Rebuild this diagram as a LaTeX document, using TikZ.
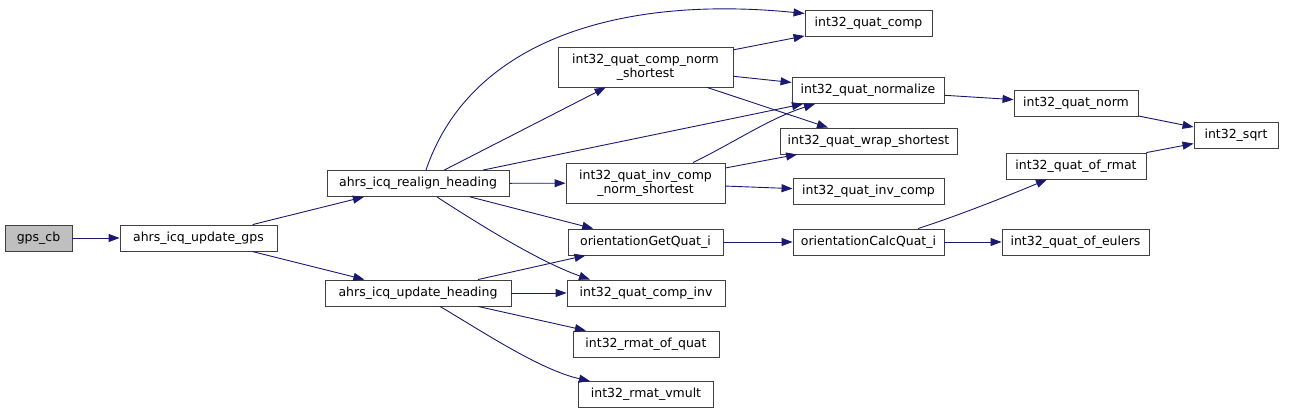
\documentclass[tikz,border=0pt]{standalone}
\usepackage{fontspec}
\setmainfont{DejaVu Sans}
\usepackage{xcolor}
\usepackage{tikz}
\usetikzlibrary{arrows.meta}
\definecolor{edgeblue}{HTML}{191970}
\definecolor{boxline}{HTML}{404040}
\definecolor{rootgray}{HTML}{BFBFBF}

\begin{document}
\begin{tikzpicture}[x=1pt,y=-1pt,>={Triangle[length=11pt,width=8pt]},
  font=\fontsize{12.5}{14.5}\selectfont,
  fn/.style={draw=boxline,fill=white,line width=0.9pt,inner sep=0pt,minimum height=26pt,align=center},
  root/.style={fn,fill=rootgray},
  call/.style={->,edgeblue,line width=0.9pt}]
  \useasboundingbox (0,0) rectangle (1311,413);
  % callers
  \node[root,minimum width=67pt] (gpscb) at (38.5,238) {gps\_cb};
  \node[fn,minimum width=157pt] (updgps) at (198.5,238) {ahrs\_icq\_update\_gps};
  \node[fn,minimum width=182pt] (realign) at (418,183.5) {ahrs\_icq\_realign\_heading};
  \node[fn,minimum width=186pt] (updhead) at (418,293) {ahrs\_icq\_update\_heading};
  % third column
  \node[fn,minimum width=175pt,minimum height=40pt] (compnorm) at (645.5,67) {int32\_quat\_comp\_norm\\\_shortest};
  \node[fn,minimum width=159pt,minimum height=40pt] (invnorm) at (645.5,183) {int32\_quat\_inv\_comp\\\_norm\_shortest};
  \node[fn,minimum width=155pt] (getquat) at (645.5,242) {orientationGetQuat\_i};
  \node[fn,minimum width=158pt] (compinv) at (646,293) {int32\_quat\_comp\_inv};
  \node[fn,minimum width=146pt] (rmatquat) at (646,344) {int32\_rmat\_of\_quat};
  \node[fn,minimum width=135pt] (vmult) at (646,394.5) {int32\_rmat\_vmult};
  % fourth column
  \node[fn,minimum width=127pt] (qcomp) at (868.5,23.5) {int32\_quat\_comp};
  \node[fn,minimum width=152pt] (qnormalize) at (868,90.5) {int32\_quat\_normalize};
  \node[fn,minimum width=177pt] (qwrap) at (868.5,141) {int32\_quat\_wrap\_shortest};
  \node[fn,minimum width=151pt] (qinvcomp) at (868.5,191.5) {int32\_quat\_inv\_comp};
  \node[fn,minimum width=151pt] (calcquat) at (868.5,242) {orientationCalcQuat\_i};
  % right side
  \node[fn,minimum width=124pt] (qnorm) at (1076,103.5) {int32\_quat\_norm};
  \node[fn,minimum width=140pt] (qofrmat) at (1076,166) {int32\_quat\_of\_rmat};
  \node[fn,minimum width=147pt] (qofeulers) at (1075.5,242) {int32\_quat\_of\_eulers};
  \node[fn,minimum width=84pt] (isqrt) at (1236,135.5) {int32\_sqrt};

  \draw[call] (gpscb) -- (updgps);
  \draw[call] (updgps) -- (realign);
  \draw[call] (updgps) -- (updhead);
  \draw[call] ([xshift=8pt]realign.north) .. controls (470,40) and (620,-5) .. ([yshift=10pt]qcomp.west);
  \draw[call] (realign) -- (compnorm);
  \draw[call] (realign) -- (qnormalize);
  \draw[call] (realign) -- (invnorm);
  \draw[call] (realign) -- (getquat);
  \draw[call] ([xshift=19pt]realign.south) .. controls (480,225) and (540,262) .. ([xshift=-56pt]compinv.north);
  \draw[call] (compnorm) -- (qcomp);
  \draw[call] (compnorm) -- (qnormalize);
  \draw[call] (compnorm) -- (qwrap);
  \draw[call] ([xshift=47.5pt]invnorm.north) .. controls (735,142) and (770,118) .. ([xshift=-53pt]qnormalize.south);
  \draw[call] (invnorm) -- (qwrap);
  \draw[call] (invnorm) -- (qinvcomp);
  \draw[call] (updhead) -- (getquat);
  \draw[call] (updhead) -- (compinv);
  \draw[call] (updhead) -- (rmatquat);
  \draw[call] ([xshift=22pt]updhead.south) .. controls (480,330) and (540,370) .. ([xshift=-56pt]vmult.north);
  \draw[call] (getquat) -- (calcquat);
  \draw[call] ([xshift=49.5pt]calcquat.north) .. controls (960,215) and (1010,195) .. ([xshift=-29pt]qofrmat.south);
  \draw[call] (calcquat) -- (qofeulers);
  \draw[call] (qnormalize) -- (qnorm);
  \draw[call] (qnorm) -- (isqrt);
  \draw[call] (qofrmat) -- (isqrt);
\end{tikzpicture}
\end{document}
